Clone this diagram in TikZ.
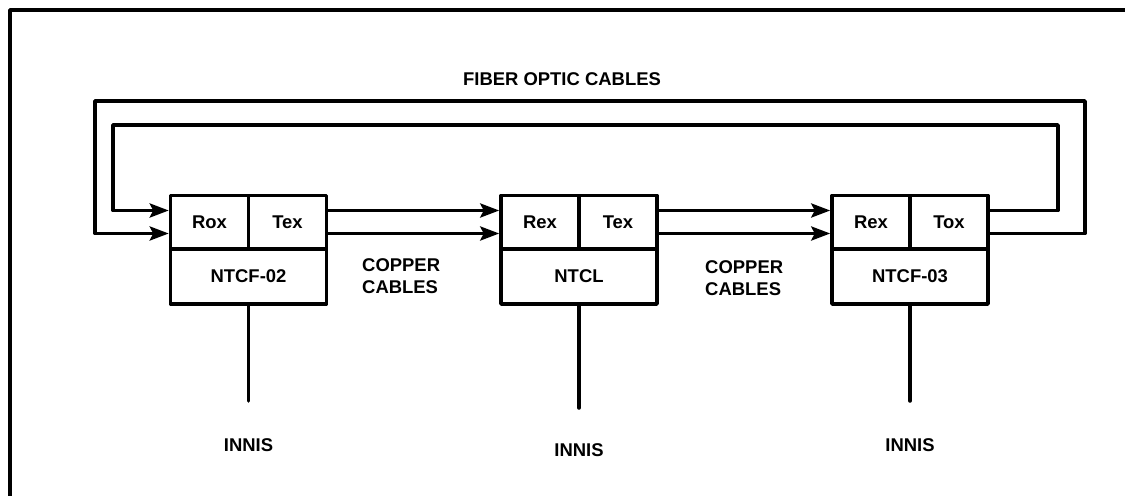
\documentclass[tikz,border=0pt]{standalone}
\usepackage{fontspec}
\setmainfont{Liberation Sans}
\usetikzlibrary{arrows.meta}

\begin{document}
\begin{tikzpicture}[line cap=round,line join=round,x=0.02cm,y=-0.02cm,
        every node/.style={font=\fontsize{10.5}{12.5}\selectfont\bfseries},
        cell/.style={draw,line width=2pt,minimum width=1.56cm,minimum height=1.06cm,inner sep=0pt},
        unit/.style={draw,line width=2pt,minimum width=3.12cm,minimum height=1.1cm,inner sep=0pt},
        wire/.style={line width=2pt},
        feed/.style={wire,-{Stealth[length=0.38cm,width=0.28cm,inset=0.07cm]}}]
                \useasboundingbox (0,0) rectangle (1125,496);
                % frame
                \draw [wire,line cap=butt] (10,510) -- (10,10) -- (1140,10);
                % units
                \node [unit] (ntcf2) at (248.5,276.5) {NTCF-02};
                \node [cell] (rox2) at (209.5,222) {Rox};
                \node [cell] (tex2) at (287.5,222) {Tex};
                \node [unit] (ntcl) at (579,276.5) {NTCL};
                \node [cell] (rexl) at (540,222) {Rex};
                \node [cell] (texl) at (618,222) {Tex};
                \node [unit] (ntcf3) at (910,276.5) {NTCF-03};
                \node [cell] (rex3) at (871,222) {Rex};
                \node [cell] (tox3) at (949,222) {Tox};
                % copper cables
                \draw [feed] ([yshift=0.23cm]tex2.east) -- ([yshift=0.23cm]rexl.west);
                \draw [feed] ([yshift=-0.23cm]tex2.east) -- ([yshift=-0.23cm]rexl.west);
                \draw [feed] ([yshift=0.23cm]texl.east) -- ([yshift=0.23cm]rex3.west);
                \draw [feed] ([yshift=-0.23cm]texl.east) -- ([yshift=-0.23cm]rex3.west);
                \node [anchor=west,align=left] (copper1) at (356,276) {COPPER\\CABLES};
                \node [anchor=west,align=left] (copper2) at (699,278) {COPPER\\CABLES};
                % fiber optic cables
                \coordinate (in1) at (1058,125);
                \coordinate (in2) at (113,125);
                \coordinate (out1) at (1085,101);
                \coordinate (out2) at (95,101);
                \draw [feed] ([yshift=0.23cm]tox3.east) -| (in1) -- (in2) |- ([yshift=0.23cm]rox2.west);
                \draw [feed] ([yshift=-0.23cm]tox3.east) -| (out1) -- (out2) |- ([yshift=-0.23cm]rox2.west);
                \node (fiber) at (562,79) {FIBER OPTIC CABLES};
                % innis
                \coordinate (e2) at (248.5,401);
                \coordinate (el) at (579,408);
                \coordinate (e3) at (910,401);
                \draw [wire] (ntcf2.south) -- (e2);
                \draw [wire] (ntcl.south) -- (el);
                \draw [wire] (ntcf3.south) -- (e3);
                \node (innis2) at (248.5,445) {INNIS};
                \node (innisl) at (579,450) {INNIS};
                \node (innis3) at (910,445) {INNIS};
            \end{tikzpicture}
\end{document}
